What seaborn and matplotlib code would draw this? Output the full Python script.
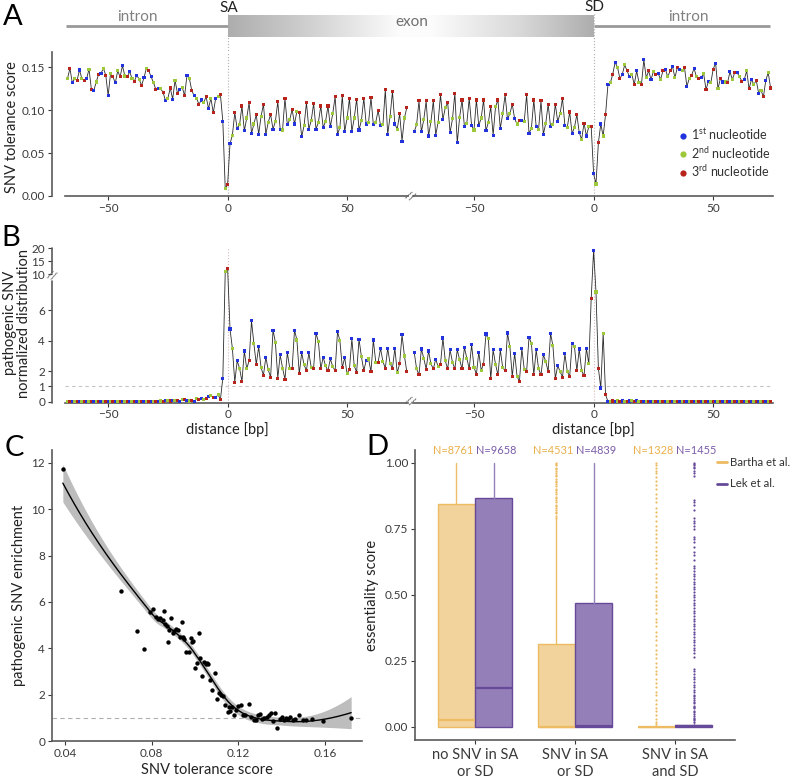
import numpy as np
import pandas as pd
import matplotlib
matplotlib.use('Agg')
import matplotlib.pyplot as plt
import seaborn as sns
from matplotlib.lines import Line2D

# ---------------- DATA ----------------
# Panel A: SNV tolerance score per position (acceptor half starts at -67, donor half at -75)
A_acc_start = -67
A_acc = [0.137, 0.149, 0.132, 0.137, 0.135, 0.147, 0.137, 0.135, 0.137, 0.148,
         0.124, 0.123, 0.133, 0.142, 0.143, 0.149, 0.141, 0.117, 0.143, 0.139,
         0.132, 0.146, 0.139, 0.152, 0.140, 0.139, 0.145, 0.137, 0.134, 0.141,
         0.136, 0.129, 0.138, 0.149, 0.146, 0.139, 0.132, 0.124, 0.125, 0.125,
         0.121, 0.111, 0.114, 0.126, 0.113, 0.135, 0.120, 0.124, 0.127, 0.117,
         0.141, 0.137, 0.123, 0.117, 0.114, 0.107, 0.112, 0.109, 0.116, 0.102,
         0.114, 0.097, 0.114, 0.116, 0.118, 0.087, 0.009,
         0.013, 0.061, 0.071, 0.097, 0.079, 0.083, 0.105, 0.076, 0.091, 0.109,
         0.073, 0.084, 0.095, 0.072, 0.093, 0.107, 0.072, 0.086, 0.095, 0.078,
         0.087, 0.110, 0.078, 0.077, 0.114, 0.083, 0.089, 0.101, 0.084, 0.099,
         0.097, 0.069, 0.082, 0.109, 0.078, 0.088, 0.108, 0.078, 0.086, 0.105,
         0.080, 0.087, 0.105, 0.081, 0.096, 0.116, 0.072, 0.080, 0.117, 0.075,
         0.091, 0.114, 0.075, 0.091, 0.113, 0.077, 0.088, 0.114, 0.084, 0.086,
         0.115, 0.083, 0.086, 0.100, 0.082, 0.083, 0.124, 0.072, 0.093, 0.122,
         0.084, 0.078, 0.096, 0.064, 0.091, 0.103]
A_don_start = -75
A_don = [0.075, 0.083, 0.111, 0.075, 0.089, 0.111, 0.070, 0.087, 0.111, 0.071,
         0.086, 0.118, 0.089, 0.103, 0.109, 0.074, 0.090, 0.120, 0.062, 0.092,
         0.112, 0.081, 0.085, 0.114, 0.082, 0.077, 0.112, 0.082, 0.091, 0.112,
         0.076, 0.086, 0.104, 0.071, 0.104, 0.112, 0.079, 0.096, 0.118, 0.090,
         0.096, 0.107, 0.090, 0.084, 0.088, 0.088, 0.087, 0.118, 0.073, 0.079,
         0.112, 0.081, 0.078, 0.111, 0.072, 0.085, 0.107, 0.081, 0.083, 0.107,
         0.087, 0.096, 0.114, 0.082, 0.080, 0.098, 0.073, 0.080, 0.095, 0.074,
         0.066, 0.085, 0.070, 0.081, 0.081,
         0.026, 0.014, 0.062, 0.084, 0.070, 0.095, 0.130, 0.132, 0.142, 0.156,
         0.150, 0.137, 0.142, 0.153, 0.146, 0.139, 0.142, 0.130, 0.146, 0.132,
         0.130, 0.159, 0.138, 0.146, 0.136, 0.145, 0.142, 0.143, 0.136, 0.146,
         0.148, 0.139, 0.146, 0.151, 0.138, 0.150, 0.148, 0.146, 0.150, 0.128,
         0.137, 0.141, 0.149, 0.139, 0.137, 0.138, 0.143, 0.124, 0.134, 0.132,
         0.148, 0.155, 0.125, 0.137, 0.133, 0.133, 0.132, 0.145, 0.136, 0.144,
         0.144, 0.139, 0.134, 0.136, 0.146, 0.125, 0.136, 0.130, 0.135, 0.120,
         0.123, 0.116, 0.135, 0.144, 0.126]

# Panel B: pathogenic SNV normalized distribution
B_acc_start = -67
B_acc = [0, 0.01, 0, 0, 0.02, 0, 0, 0.01, 0, 0,
         0.03, 0, 0.01, 0, 0, 0.02, 0, 0, 0.01, 0,
         0.02, 0, 0, 0.01, 0, 0.03, 0, 0.01, 0, 0.02,
         0, 0.01, 0.04, 0, 0.02, 0.01, 0.03, 0,
         0.02, 0.05, 0.03, 0.06, 0.08, 0.05, 0.07, 0.10, 0.06, 0.04,
         0.12, 0.17, 0.08, 0.05, 0.10, 0.03, 0.20, 0.15, 0.24, 0.12,
         0.20, 0.35, 0.40, 0.30, 0.28, 0.45, 0.17, 1.55, 10.9,
         12.3, 4.77, 3.50, 1.29, 2.68, 2.20, 1.33, 3.33, 2.16, 2.70,
         5.30, 3.80, 2.46, 3.60, 2.24, 1.74, 2.92, 2.09, 1.60, 4.70,
         3.90, 1.55, 3.07, 2.20, 1.48, 3.22, 2.20, 2.16, 4.70, 4.05,
         1.83, 3.22, 2.42, 2.05, 3.22, 2.24, 2.20, 4.49, 3.94, 2.16,
         2.92, 2.35, 2.03, 2.81, 2.31, 2.03, 4.60, 4.00, 2.24, 2.90,
         1.83, 2.14, 4.12, 2.35, 1.94, 4.10, 2.96, 2.05, 2.70, 2.80,
         1.98, 4.05, 2.60, 2.60, 3.50, 2.64, 2.20, 3.50, 2.50, 2.20,
         3.50, 1.90, 2.50, 4.40, 3.00, 1.97]
B_don_start = -75
B_don = [3.25, 2.16, 1.76, 3.46, 2.85, 2.14, 3.33, 2.48, 2.16, 2.79,
         2.31, 2.46, 4.18, 2.68, 2.16, 3.40, 2.59, 2.16, 3.40, 2.75,
         2.16, 3.55, 2.85, 2.16, 3.73, 2.27, 1.79, 3.25, 2.07, 2.46,
         4.44, 4.12, 1.50, 3.40, 2.46, 1.76, 3.40, 2.24, 2.03, 4.51,
         3.62, 1.66, 3.18, 1.66, 1.33, 3.50, 2.14, 1.98, 4.23, 3.83,
         1.76, 3.40, 2.16, 1.76, 3.07, 2.64, 1.98, 4.49, 3.66, 1.53,
         2.37, 1.98, 1.61, 3.14, 1.98, 1.66, 3.83, 3.62, 2.03, 3.46,
         2.03, 1.70, 3.50, 2.48, 6.78,
         19.2, 7.20, 2.20, 0.90, 4.50, 0.46, 0.02, 0.03, 0.05, 0.04,
         0.05, 0.03, 0.05, 0.04, 0.02, 0.05, 0.06, 0.03, 0.08, 0.02,
         0.01, 0, 0.02, 0, 0, 0.01, 0, 0, 0.02, 0,
         0, 0.01, 0, 0, 0.01, 0, 0.02, 0, 0, 0.01,
         0, 0, 0.01, 0, 0, 0.02, 0, 0, 0.01, 0,
         0, 0.01, 0, 0, 0.02, 0, 0, 0.01, 0, 0,
         0.01, 0, 0, 0.01, 0, 0, 0.01, 0, 0, 0.02,
         0, 0, 0.01, 0, 0]

nt_names = ['1st', '2nd', '3rd']
acc_frame_shift = 1   # first codon position right after the acceptor boundary
don_frame_shift = 0

# Panel C: tolerance score vs enrichment
C_tol = [0.039, 0.066, 0.073, 0.0765, 0.079, 0.0805, 0.082, 0.083, 0.084, 0.085,
         0.0855, 0.086, 0.087, 0.0875, 0.088, 0.089, 0.090, 0.0905, 0.091, 0.092,
         0.093, 0.094, 0.0945, 0.095, 0.096, 0.097, 0.098, 0.0985, 0.099, 0.100,
         0.101, 0.102, 0.1025, 0.103, 0.104, 0.105, 0.1055, 0.106, 0.107, 0.108,
         0.109, 0.110, 0.111, 0.112, 0.113, 0.114, 0.115, 0.1155, 0.116, 0.117,
         0.118, 0.119, 0.120, 0.121, 0.122, 0.123, 0.125, 0.126, 0.127, 0.128,
         0.129, 0.130, 0.131, 0.132, 0.133, 0.134, 0.135, 0.136, 0.137, 0.138,
         0.139, 0.140, 0.141, 0.142, 0.143, 0.144, 0.145, 0.146, 0.148, 0.150,
         0.151, 0.154, 0.159, 0.172]
C_enr = [11.75, 6.45, 4.75, 3.95, 5.55, 5.70, 5.35, 5.25, 5.30, 5.20,
         5.60, 5.05, 4.95, 4.25, 4.80, 5.30, 4.65, 4.75, 4.85, 4.80,
         4.50, 5.15, 4.50, 4.40, 3.85, 3.85, 4.45, 4.25, 4.30, 3.15,
         3.35, 4.65, 3.60, 2.80, 3.40, 3.30, 3.35, 3.30, 2.65, 2.20,
         2.95, 1.80, 2.05, 2.00, 1.95, 1.55, 1.25, 1.45, 1.30, 1.45,
         1.10, 1.35, 1.50, 1.55, 1.10, 1.10, 1.60, 1.05, 0.90, 0.90,
         1.10, 1.15, 0.95, 1.00, 1.05, 1.10, 1.20, 0.85, 1.20, 0.55,
         0.95, 1.05, 0.90, 1.00, 0.95, 1.05, 0.90, 0.95, 1.10, 0.90,
         0.90, 0.95, 0.85, 1.00]

# Panel D: essentiality score box summaries
D_groups = ['no SNV in SA\nor SD', 'SNV in SA\nor SD', 'SNV in SA\nand SD']
D_sources = ['Bartha et al.', 'Lek et al.']
D_N = {'Bartha et al.': [8761, 4531, 1328], 'Lek et al.': [9658, 4839, 1455]}
D_q1 = {'Bartha et al.': [0.0, 0.0, 0.0], 'Lek et al.': [0.0, 0.0, 0.0]}
D_med = {'Bartha et al.': [0.025, 0.0, 0.0], 'Lek et al.': [0.145, 0.004, 0.003]}
D_q3 = {'Bartha et al.': [0.845, 0.313, 0.0], 'Lek et al.': [0.865, 0.467, 0.008]}
D_whislo = {'Bartha et al.': [0.0, 0.0, 0.0], 'Lek et al.': [0.0, 0.0, 0.0]}
D_whishi = {'Bartha et al.': [1.0, 0.785, 0.0], 'Lek et al.': [1.0, 1.0, 0.02]}
D_fliers = {
    'Bartha et al.': [
        [],
        [0.79, 0.80, 0.81, 0.815, 0.82, 0.83, 0.835, 0.84, 0.85, 0.86, 0.865, 0.87,
         0.88, 0.89, 0.895, 0.90, 0.91, 0.92, 0.925, 0.93, 0.94, 0.95, 0.955, 0.96,
         0.97, 0.975, 0.98, 0.99, 0.995, 1.0],
        [0.004, 0.01, 0.02, 0.03, 0.045, 0.06, 0.07, 0.085, 0.10, 0.12, 0.13, 0.15,
         0.165, 0.18, 0.20, 0.21, 0.225, 0.24, 0.26, 0.275, 0.29, 0.31, 0.33, 0.345,
         0.36, 0.38, 0.395, 0.41, 0.43, 0.445, 0.46, 0.475, 0.49, 0.50, 0.515, 0.53,
         0.55, 0.565, 0.58, 0.60, 0.62, 0.635, 0.65, 0.665, 0.68, 0.70, 0.715, 0.73,
         0.745, 0.76, 0.78, 0.80, 0.815, 0.83, 0.85, 0.865, 0.88, 0.90, 0.915, 0.93,
         0.945, 0.96, 0.97, 0.98, 0.99, 1.0]],
    'Lek et al.': [
        [],
        [],
        [0.02, 0.025, 0.03, 0.035, 0.04, 0.05, 0.055, 0.06, 0.07, 0.075, 0.08, 0.09,
         0.095, 0.10, 0.11, 0.115, 0.12, 0.13, 0.14, 0.15, 0.16, 0.17, 0.18, 0.19,
         0.20, 0.21, 0.22, 0.265, 0.28, 0.29, 0.30, 0.31, 0.32, 0.33, 0.34, 0.35,
         0.36, 0.37, 0.38, 0.39, 0.40, 0.41, 0.42, 0.43, 0.44, 0.45, 0.46, 0.47,
         0.48, 0.49, 0.50, 0.51, 0.52, 0.53, 0.54, 0.55, 0.56, 0.57, 0.58, 0.59,
         0.60, 0.61, 0.63, 0.65, 0.66, 0.68, 0.70, 0.71, 0.72, 0.75, 0.76, 0.77,
         0.78, 0.79, 0.82, 0.84, 0.85, 0.86, 0.95, 0.96, 0.97, 0.98, 0.985, 0.99,
         0.995, 1.0]]}

# ---------------- STYLE ----------------
sns.set_theme(style='white')
plt.rcParams['font.family'] = ['Lato', 'DejaVu Sans']
plt.rcParams['mathtext.fontset'] = 'custom'
plt.rcParams['mathtext.rm'] = 'Lato'
plt.rcParams['mathtext.it'] = 'Lato:italic'
plt.rcParams['mathtext.bf'] = 'Lato:bold'

W, H = 802, 777
fig = plt.figure(figsize=(W / 100, H / 100), dpi=100)
SPINE = '#5a5a5a'
TICKC = '#3a3a3a'
LBL = '#222222'
PAL = {'1st': '#2233dd', '2nd': '#9cc83a', '3rd': '#b8241c'}


def ax_px(x0, y0, x1, y1):
    a = fig.add_axes([x0 / W, 1 - y1 / H, (x1 - x0) / W, (y1 - y0) / H])
    a.set_facecolor('none')
    return a


def style_ax(a, left=True):
    for s in ['top', 'right']:
        a.spines[s].set_visible(False)
    for s in ['left', 'bottom']:
        a.spines[s].set_color(SPINE)
        a.spines[s].set_linewidth(1.2)
    a.tick_params(axis='both', labelsize=8.5, colors=TICKC, length=3, width=0.8,
                  direction='out', bottom=True, left=left, pad=2)
    if not left:
        a.spines['left'].set_visible(False)
        a.tick_params(axis='y', left=False, labelleft=False)


def make_df(start, vals, shift):
    pos = np.arange(start, start + len(vals))
    return pd.DataFrame({'pos': pos, 'val': vals,
                         'nt': [nt_names[(p - shift) % 3] for p in pos]})


def draw_profile(a, df):
    sns.lineplot(data=df, x='pos', y='val', color='#2a2a2a', lw=0.6, ax=a,
                 legend=False, estimator=None, sort=False)
    sns.scatterplot(data=df, x='pos', y='val', hue='nt', hue_order=nt_names,
                    palette=PAL, s=5, linewidth=0, marker='s', ax=a,
                    legend=False, zorder=3)
    a.set_xlabel('')
    a.set_ylabel('')


# ---------------- PANEL A ----------------
axAL = ax_px(52, 52, 408, 196)
axAR = ax_px(413, 52, 773, 196)
dfAL = make_df(A_acc_start, A_acc, acc_frame_shift)
dfAR = make_df(A_don_start, A_don, don_frame_shift)
for a, df, xl, bnd in [(axAL, dfAL, (-73.5, 75.5), (-68, 75.5)),
                       (axAR, dfAR, (-75.5, 75.0), (-75.5, 75.0))]:
    a.axvline(0, color='#b0b0b0', ls=':', lw=0.8, zorder=0)
    draw_profile(a, df)
    a.set_xlim(*xl)
    a.set_ylim(0, 0.168)
    a.set_xticks([-50, 0, 50])
    a.spines['bottom'].set_bounds(*bnd)
style_ax(axAL)
style_ax(axAR, left=False)
axAL.set_yticks([0, 0.05, 0.10, 0.15])
axAL.set_yticklabels(['0.00', '0.05', '0.10', '0.15'])
leg_h = [Line2D([], [], ls='', marker='o', ms=4.5, mec='none', mfc=PAL[n]) for n in nt_names]
axAR.legend(leg_h, [r'1$^{\mathrm{st}}$ nucleotide', r'2$^{\mathrm{nd}}$ nucleotide',
                    r'3$^{\mathrm{rd}}$ nucleotide'],
            loc='center left', bbox_to_anchor=(0.70, 0.30), frameon=False,
            fontsize=9, handletextpad=0.2, labelspacing=0.2, handlelength=1.0,
            labelcolor='#333333')
fig.text(12 / W, 1 - 127 / H, 'SNV tolerance score', rotation=90, ha='center',
         va='center', fontsize=10.5, color=LBL)

# ---------------- PANEL B ----------------
def fwd(y):
    y = np.asarray(y, dtype=float)
    return np.where(y <= 8, y, np.where(y < 10, 8 + (y - 8) * 0.183,
                                        8.366 + (y - 10) * 0.17))


def inv(t):
    t = np.asarray(t, dtype=float)
    return np.where(t <= 8, t, np.where(t < 8.366, 8 + (t - 8) / 0.183,
                                        10 + (t - 8.366) / 0.17))


axBL = ax_px(52, 247.5, 408, 402.5)
axBR = ax_px(413, 247.5, 773, 402.5)
dfBL = make_df(B_acc_start, B_acc, acc_frame_shift)
dfBR = make_df(B_don_start, B_don, don_frame_shift)
for a, df, xl, bnd in [(axBL, dfBL, (-73.5, 75.5), (-68, 75.5)),
                       (axBR, dfBR, (-75.5, 75.0), (-75.5, 75.0))]:
    a.set_yscale('function', functions=(fwd, inv))
    a.axvline(0, color='#d8b8b8', ls=':', lw=0.8, zorder=0)
    a.hlines(1, bnd[0], bnd[1], color='#c4c4c4', ls=(0, (3, 3)), lw=0.8, zorder=0)
    draw_profile(a, df)
    a.set_xlim(*xl)
    a.set_ylim(-0.05, 20.3)
    a.set_xticks([-50, 0, 50])
    a.spines['bottom'].set_bounds(*bnd)
    a.set_xlabel('distance [bp]', fontsize=10.5, color=LBL)
    a.xaxis.set_label_coords((0 - xl[0]) / (xl[1] - xl[0]), -0.125)
style_ax(axBL)
style_ax(axBR, left=False)
axBL.spines['left'].set_visible(False)
axBL.set_yticks([0, 1, 2, 4, 6, 10, 15, 20])
axBL.yaxis.set_minor_locator(matplotlib.ticker.NullLocator())
axBR.yaxis.set_minor_locator(matplotlib.ticker.NullLocator())
ytr = axBL.get_yaxis_transform()
axBL.plot([0, 0], [-0.05, 7.95], transform=ytr, color=SPINE, lw=1.2, clip_on=False)
axBL.plot([0, 0], [10.3, 20.3], transform=ytr, color=SPINE, lw=1.2, clip_on=False)
axBL.text(0, 9.3, '//', transform=ytr, ha='center', va='center', fontsize=8,
          color=SPINE, rotation=-20)
fig.text(17 / W, 1 - 323 / H, 'pathogenic SNV\nnormalized distribution', rotation=90,
         ha='center', va='center', fontsize=10.5, color=LBL, linespacing=0.95)

# ---------------- PANEL C ----------------
def loess_smooth(x, y, xs, span=0.75):
    """Local quadratic regression (tricube weights) with pointwise standard errors."""
    x = np.asarray(x, float) * 100
    y = np.asarray(y, float)
    xs = np.asarray(xs, float) * 100
    n = len(x)
    q = int(np.floor(span * n))

    def row(x0):
        d = np.abs(x - x0)
        h = np.sort(d)[q - 1]
        w = np.clip(1 - (d / h) ** 3, 0, None) ** 3
        X = np.column_stack([np.ones(n), x - x0, (x - x0) ** 2])
        XtW = X.T * w
        return np.linalg.solve(XtW @ X, XtW)[0]

    L = np.array([row(v) for v in x])
    R = np.eye(n) - L
    sigma = np.sqrt(np.sum((R @ y) ** 2) / np.trace(R.T @ R))
    Ls = np.array([row(v) for v in xs])
    return Ls @ y, sigma * np.sqrt(np.sum(Ls ** 2, axis=1))


axC = ax_px(52, 450, 362, 741)
axC.axhline(1, color='#b0b0b0', ls=(0, (4, 3)), lw=0.8, zorder=0)
xs = np.linspace(min(C_tol), max(C_tol), 200)
fit, se = loess_smooth(C_tol, C_enr, xs)
axC.fill_between(xs, fit - 1.99 * se, fit + 1.99 * se, color='#bdbdbd', lw=0, zorder=1)
sns.lineplot(x=xs, y=fit, color='black', lw=1.0, ax=axC, zorder=3)
sns.scatterplot(x=C_tol, y=C_enr, color='black', s=10, linewidth=0, ax=axC, zorder=2)
axC.set_xlim(0.034, 0.177)
axC.set_ylim(0, 12.55)
axC.set_xticks([0.04, 0.08, 0.12, 0.16])
axC.set_xticklabels(['0.04', '0.08', '0.12', '0.16'])
axC.set_yticks([0, 2, 4, 6, 8, 10, 12])
style_ax(axC)
axC.set_xlabel('SNV tolerance score', fontsize=10.5, color=LBL, labelpad=3)
axC.set_ylabel('pathogenic SNV enrichment', fontsize=10.5, color=LBL, labelpad=4)

# ---------------- PANEL D ----------------
axD = ax_px(415, 450, 735, 740)
FACE = {'Bartha et al.': '#f3d39c', 'Lek et al.': '#957fb9'}
EDGE = {'Bartha et al.': '#ecbb62', 'Lek et al.': '#664a99'}
WHISK = {'Bartha et al.': '#edbd68', 'Lek et al.': '#9482b8'}
NCOL = {'Bartha et al.': '#eab04c', 'Lek et al.': '#7a5ca8'}
offs = {'Bartha et al.': -0.1875, 'Lek et al.': 0.1875}
lab_offs = {'Bartha et al.': -0.215, 'Lek et al.': 0.215}
for src in D_sources:
    stats = []
    for i in range(len(D_groups)):
        stats.append(dict(q1=D_q1[src][i], med=D_med[src][i], q3=D_q3[src][i],
                          whislo=D_whislo[src][i], whishi=D_whishi[src][i],
                          fliers=D_fliers[src][i]))
    pos = [i + offs[src] for i in range(len(D_groups))]
    axD.bxp(stats, positions=pos, widths=0.37, patch_artist=True, showcaps=False,
            boxprops=dict(facecolor=FACE[src], edgecolor=EDGE[src], lw=1.0),
            medianprops=dict(color=EDGE[src], lw=1.6),
            whiskerprops=dict(color=WHISK[src], lw=1.0),
            flierprops=dict(marker='o', ms=1.6, mfc=EDGE[src], mec='none'),
            manage_ticks=False)
    for i, n in enumerate(D_N[src]):
        axD.text(i + lab_offs[src], 1.045, f'N={n}', ha='center', va='center',
                 fontsize=7.9, color=NCOL[src])
axD.set_xlim(-0.6, 2.6)
axD.set_ylim(-0.05, 1.048)
axD.set_xticks(range(len(D_groups)))
axD.set_xticklabels(D_groups)
axD.set_yticks([0, 0.25, 0.5, 0.75, 1.0])
axD.set_yticklabels(['0.00', '0.25', '0.50', '0.75', '1.00'])
style_ax(axD)
axD.tick_params(axis='x', labelsize=10.5, pad=3)
axD.set_ylabel('essentiality score', fontsize=10.5, color=LBL, labelpad=4)
dh = [Line2D([], [], color=EDGE[s], lw=2.0) for s in D_sources]
axD.legend(dh, D_sources, loc='upper left', bbox_to_anchor=(0.945, 0.975),
           frameon=False, fontsize=8.2, handlelength=0.8, handletextpad=0.35,
           labelspacing=0.9, labelcolor='#333333', borderaxespad=0, borderpad=0)

# ---------------- OVERLAY (gene structure, letters, breaks) ----------------
ov = fig.add_axes([0, 0, 1, 1], zorder=10)
ov.axis('off')
ov.patch.set_visible(False)
cols = np.linspace(228, 594, 400)
g = np.interp(cols, [228, 300, 400, 430, 520, 594], [0.68, 0.80, 0.99, 0.99, 0.85, 0.68])
img = np.stack([g, g, g], axis=-1)[np.newaxis, :, :]
ov.imshow(img, extent=(228, 594, 37, 15), aspect='auto', interpolation='bilinear')
ov.plot([66, 228], [26, 26], color='#999999', lw=2.0, solid_capstyle='butt')
ov.plot([594, 770], [26, 26], color='#999999', lw=2.0, solid_capstyle='butt')
ov.plot([228, 228], [14, 52], color='#b0b0b0', ls=':', lw=0.8)
ov.plot([594, 594], [14, 52], color='#b0b0b0', ls=':', lw=0.8)
ov.text(137, 17, 'intron', ha='center', va='center', fontsize=11, color='#808080')
ov.text(688, 17, 'intron', ha='center', va='center', fontsize=11, color='#808080')
ov.text(412, 22, 'exon', ha='center', va='center', fontsize=11, color='#707070')
ov.text(229, 8, 'SA', ha='center', va='center', fontsize=11, color='#222222')
ov.text(594, 7, 'SD', ha='center', va='center', fontsize=11, color='#222222')
for yb in [197, 402.5]:
    ov.text(410, yb, '//', ha='center', va='center', fontsize=8.5, color=SPINE,
            rotation=-25)
for letter, (lx, ly) in {'A': (13, 17), 'B': (11, 238), 'C': (14, 448),
                         'D': (377, 447)}.items():
    ov.text(lx, ly, letter, ha='center', va='center', fontsize=21, color='black')
ov.set_xlim(0, W)
ov.set_ylim(H, 0)

fig.savefig('out.png', dpi=100)
